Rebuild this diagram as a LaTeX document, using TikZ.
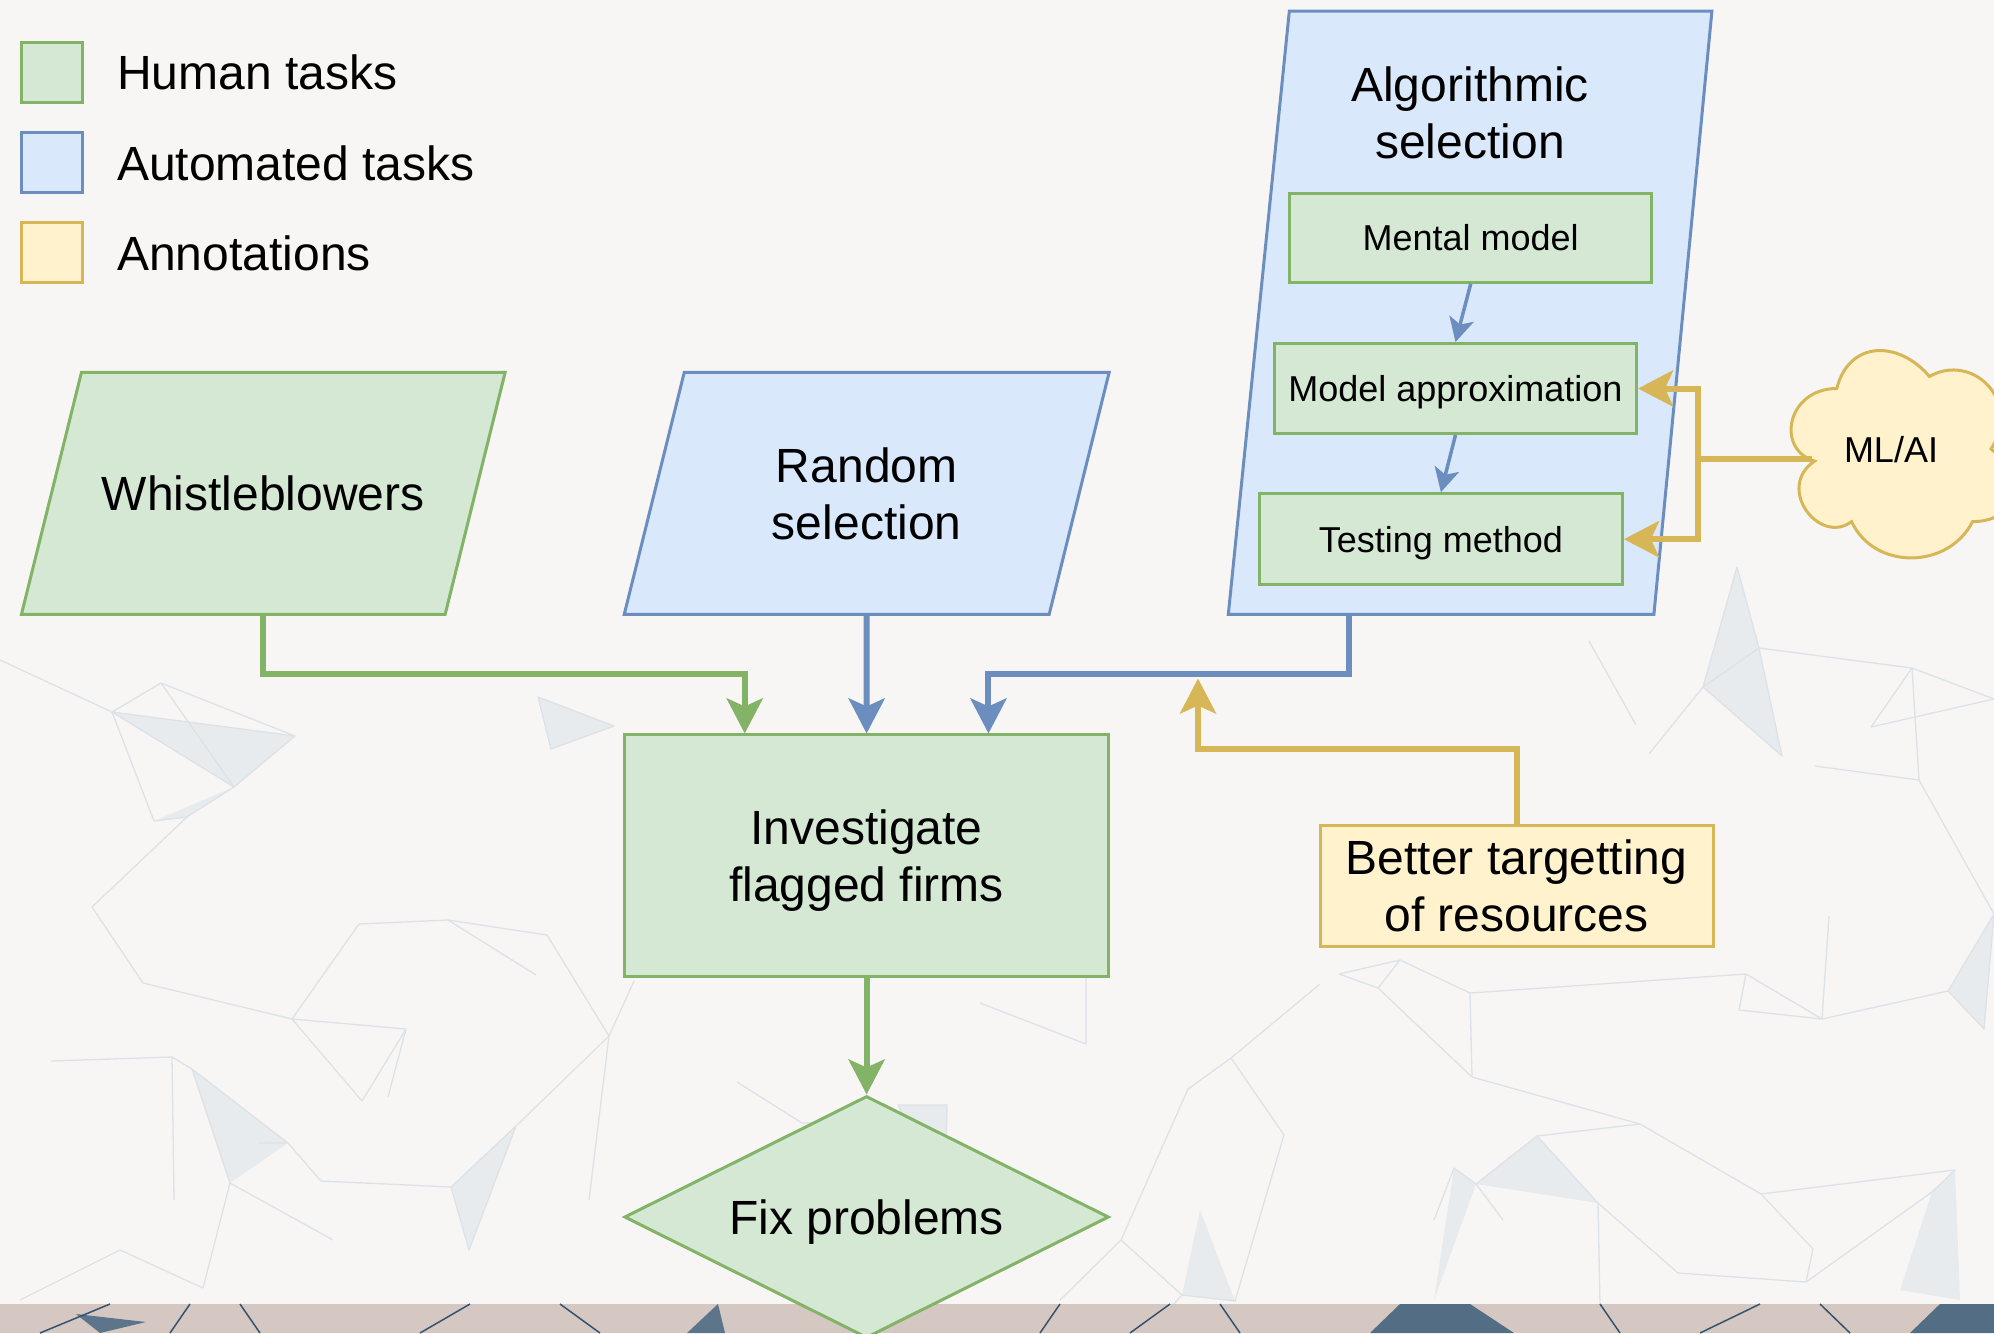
\documentclass[tikz,border=0pt]{standalone}
\usepackage{fontspec}
\setmainfont{Liberation Sans}
\usetikzlibrary{arrows.meta,calc,shapes.geometric}
\definecolor{gFill}{HTML}{D5E8D4}\definecolor{gLine}{HTML}{82B366}
\definecolor{bFill}{HTML}{DAE8FC}\definecolor{bLine}{HTML}{6C8EBF}
\definecolor{yFill}{HTML}{FFF2CC}\definecolor{yLine}{HTML}{D6B656}
\definecolor{cPaper}{HTML}{F8F6F5}
\definecolor{cMesh}{HTML}{DDE2E7}
\definecolor{cMeshFill}{HTML}{E8EBEE}
\definecolor{cStrip}{HTML}{D5C8C3}
\definecolor{cDeep}{HTML}{34536E}
\pgfdeclarelayer{bg}\pgfdeclarelayer{shapes}
\pgfsetlayers{bg,shapes,main}
\begin{document}
\begin{tikzpicture}[x=1pt,y=-1pt,
  big/.style={font=\fontsize{48}{57}\selectfont, align=center, text=black, text depth=0pt},
  small/.style={font=\fontsize{36}{43}\selectfont, align=center, text=black, text depth=0pt},
  greenbox/.style={draw=gLine, fill=gFill, line width=3pt},
  bluebox/.style={draw=bLine, fill=bFill, line width=3pt},
  yellowbox/.style={draw=yLine, fill=yFill, line width=3pt},
  frame/.style={inner sep=0pt, draw=none},
  tip/.style={-{Stealth[length=35pt,width=36pt,inset=8pt]}},
  garr/.style={draw=gLine, line width=6pt, tip},
  barr/.style={draw=bLine, line width=6pt, tip},
  yarr/.style={draw=yLine, line width=6pt, tip},
  sbarr/.style={draw=bLine, line width=3.5pt, -{Stealth[length=24pt,width=25pt,inset=6pt]}},
  meshline/.style={draw=cMesh, line width=1.3pt, line join=round},
  meshfill/.style={fill=cMeshFill},
  deepline/.style={draw=cDeep, line width=1.5pt},
]
\useasboundingbox (0,0) rectangle (1994,1333);

% ---------- backdrop: paper, faint mesh, bottom strip ----------
\begin{pgfonlayer}{bg}
  \fill[cPaper] (0,0) rectangle (1994,1333);
  % faint filled facets
  \fill[meshfill] (112,712) -- (234,787) -- (295,736) -- cycle;
  \fill[meshfill] (154,821) -- (234,787) -- (187,817) -- cycle;
  \fill[meshfill] (451,1187) -- (516,1126) -- (469,1250) -- cycle;
  \fill[meshfill] (538,697) -- (614,726) -- (551,749) -- cycle;
  \fill[meshfill] (192,1069) -- (288,1143) -- (230,1183) -- cycle;
  \fill[meshfill] (898,1105) -- (947,1105) -- (945,1200) -- cycle;
  \fill[meshfill] (1182,1295) -- (1235,1301) -- (1200,1210) -- cycle;
  \fill[meshfill] (1737,567) -- (1759,648) -- (1703,687) -- cycle;
  \fill[meshfill] (1759,648) -- (1782,756) -- (1703,687) -- cycle;
  \fill[meshfill] (1948,991) -- (1984,1029) -- (1994,914) -- cycle;
  \fill[meshfill] (1537,1136) -- (1598,1203) -- (1476,1184) -- cycle;
  \fill[meshfill] (1454,1168) -- (1476,1184) -- (1434,1300) -- cycle;
  \fill[meshfill] (1932,1192) -- (1955,1170) -- (1960,1300) -- (1900,1290) -- cycle;
  % faint mesh edges, left part
  \draw[meshline] (112,712) -- (161,683) -- (295,736) -- (234,787) -- (112,712) -- (295,736);
  \draw[meshline] (161,683) -- (234,787) (0,660) -- (112,712);
  \draw[meshline] (112,712) -- (154,821) -- (187,817) -- (234,787);
  \draw[meshline] (187,817) -- (92,907) -- (143,983) -- (292,1019) -- (406,1029);
  \draw[meshline] (359,924) -- (448,920) -- (536,975);
  \draw[meshline] (448,920) -- (547,935) -- (609,1036) -- (634,981);
  \draw[meshline] (359,924) -- (292,1019) -- (362,1101) -- (406,1029) -- (388,1097);
  \draw[meshline] (51,1061) -- (172,1057) -- (192,1069) -- (288,1143) -- (259,1143);
  \draw[meshline] (172,1057) -- (174,1200) (192,1069) -- (230,1183) -- (333,1240);
  \draw[meshline] (288,1143) -- (321,1181) -- (451,1187) -- (516,1126) -- (609,1036);
  \draw[meshline] (451,1187) -- (469,1250) -- (516,1126) (589,1200) -- (609,1036);
  \draw[meshline] (230,1183) -- (203,1288) (20,1300) -- (120,1250) -- (203,1288);
  \draw[meshline] (538,697) -- (614,726) -- (551,749) -- cycle;
  % middle part
  \draw[meshline] (737,1082) -- (802,1123) -- (849,1123);
  \draw[meshline] (898,1105) -- (947,1105) -- (945,1200) -- cycle;
  \draw[meshline] (980,1003) -- (1086,1044) -- (1086,960);
  \draw[meshline] (1320,984) -- (1231,1058) -- (1188,1089) -- (1121,1240) -- (1182,1295) -- (1235,1301) -- (1284,1135) -- (1231,1058);
  \draw[meshline] (1121,1240) -- (1060,1300) (1182,1295) -- (1150,1330);
  % right part
  \draw[meshline] (1737,567) -- (1759,648) -- (1703,687) -- cycle;
  \draw[meshline] (1703,687) -- (1649,754) (1759,648) -- (1782,756) -- (1703,687);
  \draw[meshline] (1759,648) -- (1912,668) -- (1871,727) -- (1994,699) -- (1912,668);
  \draw[meshline] (1912,668) -- (1919,780) -- (1815,766);
  \draw[meshline] (1589,641) -- (1636,725) (1919,780) -- (1994,914);
  \draw[meshline] (1746,974) -- (1739,1010) -- (1822,1019) -- cycle;
  \draw[meshline] (1822,1019) -- (1948,991) -- (1984,1029) -- (1994,914) -- (1948,991);
  \draw[meshline] (1829,916) -- (1822,1019);
  \draw[meshline] (1339,974) -- (1400,960) -- (1378,988) -- cycle;
  \draw[meshline] (1400,960) -- (1470,993) -- (1472,1077) -- (1378,988);
  \draw[meshline] (1472,1077) -- (1640,1124) -- (1761,1194) -- (1813,1249) -- (1806,1282);
  \draw[meshline] (1640,1124) -- (1537,1136) -- (1476,1184) -- (1454,1168) -- (1434,1220);
  \draw[meshline] (1476,1184) -- (1503,1220) (1537,1136) -- (1598,1203) -- (1600,1304);
  \draw[meshline] (1598,1203) -- (1678,1273) -- (1806,1282);
  \draw[meshline] (1761,1194) -- (1955,1170) -- (1932,1192) -- (1806,1282);
  \draw[meshline] (1470,993) -- (1746,974);
  % bottom strip
  \fill[cStrip] (0,1304) rectangle (1994,1333);
  \fill[cDeep!80] (76,1314) -- (146,1322) -- (100,1333) -- cycle;
  \draw[deepline] (40,1333) -- (110,1304) (170,1333) -- (190,1304) (260,1333) -- (240,1304);
  \draw[deepline] (420,1333) -- (470,1304) (560,1304) -- (600,1333);
  \fill[cDeep!80] (687,1333) -- (718,1304) -- (725,1333) -- cycle;
  \draw[deepline] (1060,1304) -- (1040,1333) (1130,1333) -- (1170,1304) (1220,1304) -- (1240,1333);
  \fill[cDeep!85] (1370,1333) -- (1400,1304) -- (1470,1304) -- (1514,1333) -- cycle;
  \draw[deepline] (1600,1304) -- (1620,1333) (1700,1333) -- (1760,1304) (1820,1304) -- (1850,1333);
  \fill[cDeep!85] (1910,1333) -- (1940,1304) -- (1994,1304) -- (1994,1333) -- cycle;
\end{pgfonlayer}

% ---------- legend ----------
\node[greenbox, minimum width=61pt, minimum height=60pt] (lgH) at (52,72) {};
\node[bluebox, minimum width=61pt, minimum height=60pt] (lgA) at (52,162) {};
\node[yellowbox, minimum width=61pt, minimum height=60pt] (lgN) at (52,252.4) {};
\node[big, anchor=west, inner sep=0pt] (lgHt) at (117,72.5) {Human tasks};
\node[big, anchor=west, inner sep=0pt] (lgAt) at (117,162.8) {Automated tasks};
\node[big, anchor=west, inner sep=0pt] (lgNt) at (117,253) {Annotations};

% ---------- input parallelograms ----------
\node[frame, big, minimum width=483.3pt, minimum height=241.6pt] (wb) at (263.3,493.4) {Whistleblowers};
\node[frame, big, minimum width=484.5pt, minimum height=241.6pt] (rs) at (866.7,493.4) {Random\\selection};
\node[frame, minimum width=483.2pt, minimum height=602.8pt] (alg) at (1470.1,312.8) {};
\begin{pgfonlayer}{shapes}
  \draw[greenbox] ([xshift=60pt]wb.north west) -- (wb.north east) -- ([xshift=-60pt]wb.south east) -- (wb.south west) -- cycle;
  \draw[bluebox] ([xshift=60pt]rs.north west) -- (rs.north east) -- ([xshift=-60pt]rs.south east) -- (rs.south west) -- cycle;
  \draw[bluebox] ([xshift=61pt]alg.north west) -- (alg.north east) -- ([xshift=-58pt]alg.south east) -- (alg.south west) -- cycle;
  % ML/AI cloud
  \draw[yellowbox] (1836.75,388.5)
    .. controls (1787.35,388.5) and (1775,449) .. (1814.52,461.1)
    .. controls (1775,487.72) and (1819.46,545.8) .. (1851.57,521.6)
    .. controls (1873.8,570) and (1947.9,570) .. (1972.6,521.6)
    .. controls (2022,521.6) and (2022,473.2) .. (1991.1,449)
    .. controls (2022,400.6) and (1972.6,352.2) .. (1929.4,376.4)
    .. controls (1898.5,340.1) and (1849.1,340.1) .. (1836.75,388.5) -- cycle;
\end{pgfonlayer}
\node[big] (algT) at (1470,112.5) {Algorithmic\\selection};

% ---------- steps inside the algorithmic selection ----------
\node[greenbox, small, minimum width=362pt, minimum height=89pt] (mm) at (1470.7,237.8) {Mental model};
\node[greenbox, small, minimum width=362pt, minimum height=90pt] (ma) at (1455.5,388.5) {Model approximation};
\node[greenbox, small, minimum width=363pt, minimum height=91pt] (tm) at (1440.9,539.2) {Testing method};
\draw[sbarr] (mm.south) -- (ma.north);
\draw[sbarr] (ma.south) -- (tm.north);

\node[small] (mlai) at (1891,449) {ML/AI};

% ---------- main flow ----------
\node[greenbox, big, minimum width=484.5pt, minimum height=241.7pt] (inv) at (866.6,855.8) {Investigate\\flagged firms};
\node[diamond, aspect=2, inner sep=2pt, greenbox, big, minimum width=484.5pt, minimum height=242pt] (fix) at (866.6,1217) {Fix problems};
\node[yellowbox, big, minimum width=393pt, minimum height=121pt] (bt) at (1516.5,885.7) {Better targetting\\of resources};

% ---------- connectors ----------
\draw[garr] (wb.south) -- ++(0,60) -| ($(inv.north west)!0.25!(inv.north east)$);
\draw[barr] (rs.south) -- (inv.north);
\draw[barr] ($(alg.south west)!0.25!(alg.south east)$) -- ++(0,60) -| ($(inv.north west)!0.75!(inv.north east)$);
\draw[garr] (inv.south) -- (fix.north);

\coordinate (aim) at (1198,678.5);
\draw[yarr] (bt.north) -- ++(0,-75) -| (aim);

\coordinate (mlIn) at (1812,459);
\coordinate (bus) at (1697.7,459);
\draw[draw=yLine, line width=6pt] (mlIn) -- (bus);
\draw[yarr] (bus) |- (ma.east);
\draw[yarr] (bus) |- (tm.east);
\end{tikzpicture}
\end{document}
